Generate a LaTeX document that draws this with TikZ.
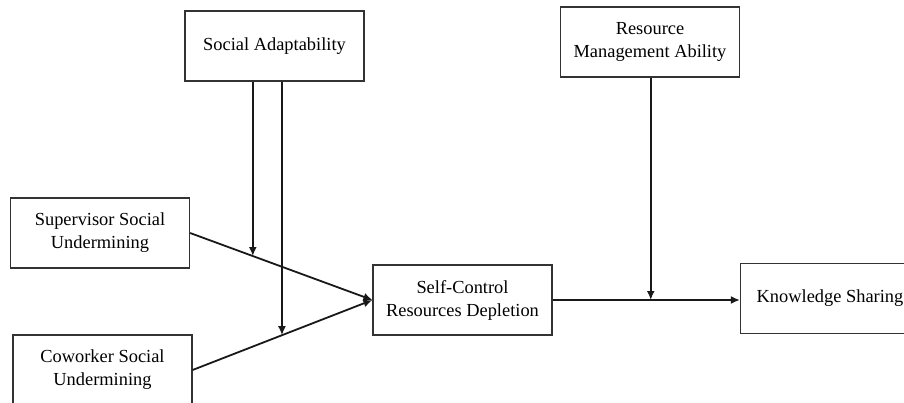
\documentclass[tikz,border=0pt]{standalone}
\usepackage{fontspec}
\setmainfont{Liberation Serif}
\usetikzlibrary{arrows.meta, positioning, calc}
\tikzset{
  varnode/.style={
    rectangle,
    minimum width=89.5pt, minimum height=35pt,
    align=center, inner sep=2pt,
    draw=black!80, line width=0.6pt,
    font=\fontsize{9.2}{11.5}\selectfont
  },
  arrow/.style={-{Latex[length=4.5pt, width=4pt]}, line width=0.9pt, black!90}
}

\begin{document}
\begin{tikzpicture}[x=0.5pt, y=-0.5pt]

  \clip (0,0) rectangle (904,402);

  % Variables
  \node[varnode] (sa) at (274.5,46) {Social Adaptability};
  \node[varnode] (rma) at (650,42) {Resource\\Management Ability};
  \node[varnode] (sup) at (100,233) {Supervisor Social\\Undermining};
  \node[varnode] (cow) at (102.5,370) {Coworker Social\\Undermining};
  \node[varnode] (scrd) at (462.5,300) {Self-Control\\Resources Depletion};
  \node[varnode] (ks) at (830,298.5) {Knowledge Sharing};

  % Main paths
  \draw[arrow] (sup.east) -- (scrd.west);
  \draw[arrow] (cow.east) -- (scrd.west);
  \draw[arrow] (scrd.east) -- (scrd.east -| ks.west);

  % Points where the moderators meet the paths
  \coordinate (m_sup) at ($(sup.east)!0.344!(scrd.west)$);
  \coordinate (m_cow) at ($(cow.east)!0.497!(scrd.west)$);
  \coordinate (m_ks) at ($(scrd.east)!0.524!(scrd.east -| ks.west)$);

  % Moderating effects
  \draw[arrow] (sa.south -| m_sup) -- (m_sup);
  \draw[arrow] (sa.south -| m_cow) -- (m_cow);
  \draw[arrow] (rma.south -| m_ks) -- (m_ks);

\end{tikzpicture}
\end{document}
